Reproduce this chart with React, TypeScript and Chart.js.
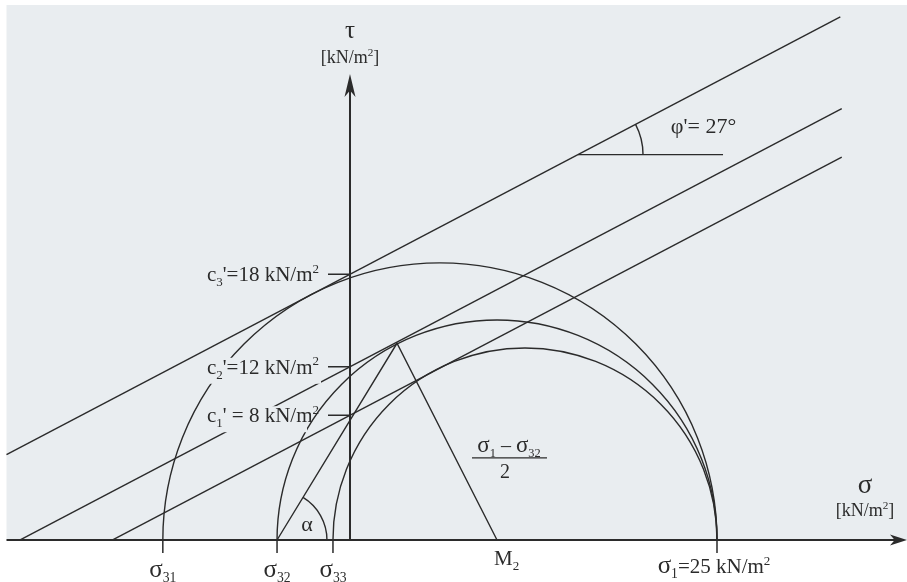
import React, { useEffect, useRef } from 'react';
import { Chart, registerables } from 'chart.js';
Chart.register(...registerables);

// ---- values (stresses in kN/m²) ----
const SIGMA_1 = 25;
const sigma3 = [-12.75, -4.97, -1.16]; // σ31, σ32, σ33
const sigma3Subs = ['31', '32', '33'];
const cDrawn = [8.5, 11.8, 18.1]; // where each envelope meets the τ axis
const cLabels = ['8', '12', '18'];
const cSubs = ['1', '2', '3'];
const envelopeStart = [-16.2, -22.5, -23.4];
const envelopeEnd = [33.5, 33.5, 33.4];
const phiDeg = 27.7;
const phiLabel = '27';
const pole = { x: 3.2, y: 13.4 };
const phiMarkX = [15.53, 25.41];
const phiArcR = 4.43;
const alphaArcR = 3.4;
const sigmaAxis = [-23.4, 37.94];
const tauAxisTop = 31.74;
const xRange = [-23.842, 37.943];
const yRange = [-2.861, 36.785];

const TAN = Math.tan((phiDeg * Math.PI) / 180);
const tauOn = (c: number, s: number) => c + s * TAN;
const M2 = (SIGMA_1 + sigma3[1]) / 2;

const INK = '#2b2b2b';
const PAPER = '#e9edf0';
const FAM = '"Liberation Serif", "DejaVu Serif", serif';

type Seg = { t: string; s: number; dy?: number };
const N = (t: string, s: number): Seg => ({ t, s });
const SUB = (t: string, s: number): Seg => ({ t, s: s * 0.62, dy: s * 0.24 });
const SUP = (t: string, s: number): Seg => ({ t, s: s * 0.62, dy: -s * 0.4 });

function measure(ctx: CanvasRenderingContext2D, segs: Seg[]) {
  let w = 0;
  for (const g of segs) {
    ctx.font = `${g.s}px ${FAM}`;
    w += ctx.measureText(g.t).width;
  }
  return w;
}

function drawRich(
  ctx: CanvasRenderingContext2D,
  segs: Seg[],
  x: number,
  y: number,
  align: 'left' | 'center' | 'right',
  box?: { top: number; bottom: number; trimRight?: number }
) {
  const w = measure(ctx, segs);
  let cx = align === 'left' ? x : align === 'center' ? x - w / 2 : x - w;
  if (box) {
    ctx.fillStyle = PAPER;
    ctx.fillRect(cx - 2, y - box.top, w + 4 - (box.trimRight || 0), box.top + box.bottom);
  }
  ctx.fillStyle = INK;
  ctx.textAlign = 'left';
  ctx.textBaseline = 'alphabetic';
  for (const g of segs) {
    ctx.font = `${g.s}px ${FAM}`;
    ctx.fillText(g.t, cx, y + (g.dy || 0));
    cx += ctx.measureText(g.t).width;
  }
}

function arrow(ctx: CanvasRenderingContext2D, tx: number, ty: number, dx: number, dy: number, len: number, hw: number) {
  const px = -dy, py = dx;
  ctx.beginPath();
  ctx.moveTo(tx, ty);
  ctx.lineTo(tx - dx * len + px * hw, ty - dy * len + py * hw);
  ctx.lineTo(tx - dx * len * 0.72, ty - dy * len * 0.72);
  ctx.lineTo(tx - dx * len - px * hw, ty - dy * len - py * hw);
  ctx.closePath();
  ctx.fillStyle = INK;
  ctx.fill();
}

const mohrPlugin = {
  id: 'mohr',
  beforeDraw(chart: any) {
    const ctx: CanvasRenderingContext2D = chart.ctx;
    const X = (v: number) => chart.scales.x.getPixelForValue(v);
    const Y = (v: number) => chart.scales.y.getPixelForValue(v);
    ctx.save();
    ctx.fillStyle = '#ffffff';
    ctx.fillRect(0, 0, chart.width, chart.height);
    ctx.fillStyle = PAPER;
    const left = X(sigmaAxis[0]);
    ctx.fillRect(left, 5, chart.width - left, Y(0) - 5);
    ctx.restore();
  },
  afterDatasetsDraw(chart: any) {
    const ctx: CanvasRenderingContext2D = chart.ctx;
    const X = (v: number) => chart.scales.x.getPixelForValue(v);
    const Y = (v: number) => chart.scales.y.getPixelForValue(v);
    const y0 = Y(0);
    const x0 = X(0);
    ctx.save();
    ctx.strokeStyle = INK;
    ctx.lineWidth = 1.4;

    // Mohr circles
    sigma3.forEach((s3) => {
      const cx = X((s3 + SIGMA_1) / 2);
      const r = X(SIGMA_1) - cx;
      ctx.beginPath();
      ctx.arc(cx, y0, r, Math.PI, 2 * Math.PI);
      ctx.stroke();
    });

    // angle α at σ32
    {
      const cx = X(sigma3[1]);
      const r = X(sigma3[1] + alphaArcR) - cx;
      const th = Math.atan2(y0 - Y(pole.y), X(pole.x) - cx);
      ctx.beginPath();
      ctx.arc(cx, y0, r, -th, 0);
      ctx.stroke();
    }

    // angle φ' on upper envelope
    {
      const c = cDrawn[2];
      const cx = X(phiMarkX[0]);
      const cy = Y(tauOn(c, phiMarkX[0]));
      const r = X(phiMarkX[0] + phiArcR) - cx;
      const th = Math.atan2(cy - Y(tauOn(c, phiMarkX[1])), X(phiMarkX[1]) - cx);
      ctx.beginPath();
      ctx.arc(cx, cy, r, -th, 0);
      ctx.stroke();
    }

    // axes
    ctx.lineWidth = 2;
    ctx.beginPath();
    ctx.moveTo(X(sigmaAxis[0]), y0);
    ctx.lineTo(X(sigmaAxis[1]) - 10, y0);
    ctx.moveTo(x0, y0);
    ctx.lineTo(x0, Y(tauAxisTop) + 12);
    ctx.stroke();
    arrow(ctx, X(sigmaAxis[1]), y0, 1, 0, 17, 5.5);
    arrow(ctx, x0, Y(tauAxisTop), 0, -1, 23, 5.5);

    // ticks
    ctx.lineWidth = 1.5;
    ctx.beginPath();
    [...sigma3, SIGMA_1].forEach((s) => {
      ctx.moveTo(X(s), y0);
      ctx.lineTo(X(s), y0 + 13);
    });
    cDrawn.forEach((c) => {
      ctx.moveTo(x0 - 22, Y(c));
      ctx.lineTo(x0, Y(c));
    });
    ctx.stroke();

    // cohesion labels
    const cs = 21;
    cDrawn.forEach((c, i) => {
      const eq = cLabels[i].length === 1 ? "' = " : "'=";
      const segs = [N('c', cs), SUB(cSubs[i], cs), N(eq + cLabels[i] + ' kN/m', cs), SUP('2', cs)];
      const box = i === 2 ? undefined : { top: 16, bottom: 10, trimRight: i === 0 ? 14 : 0 };
      drawRich(ctx, segs, x0 - 31, Y(c) + 7, 'right', box);
    });

    // σ3 labels
    sigma3.forEach((s, i) => {
      drawRich(ctx, [N('σ', 25), SUB(sigma3Subs[i], 22)], X(s), y0 + 37, 'center');
    });
    drawRich(
      ctx,
      [N('σ', 25), SUB('1', 22), N('=25 kN/m', 21), SUP('2', 21)],
      X(SIGMA_1) - 3,
      y0 + 33,
      'center'
    );
    drawRich(ctx, [N('M', 21), SUB('2', 21)], X(M2) - 3, y0 + 25, 'left');

    // fraction (σ1 − σ32)/2
    {
      const fx = X(10.83);
      drawRich(ctx, [N('σ', 23), SUB('1', 20), N(' – ', 20), N('σ', 23), SUB('32', 20)], fx, Y(6.34) + 5, 'center');
      ctx.lineWidth = 1.2;
      ctx.beginPath();
      ctx.moveTo(fx - 37, Y(5.59));
      ctx.lineTo(fx + 38, Y(5.59));
      ctx.stroke();
      drawRich(ctx, [N('2', 20)], fx - 4, Y(4.7) + 7, 'center');
    }

    // α, φ'
    drawRich(ctx, [N('α', 22)], X(-2.93), Y(1.02) + 6, 'center');
    drawRich(ctx, [N("φ'= " + phiLabel + '°', 22)], X(24.08), Y(28.2) + 7, 'center');

    // axis titles
    drawRich(ctx, [N('τ', 25)], x0, 38, 'center');
    drawRich(ctx, [N('[kN/m', 18), SUP('2', 18), N(']', 18)], x0, 63, 'center');
    drawRich(ctx, [N('σ', 27)], X(35.08), Y(3.68) + 7, 'center');
    drawRich(ctx, [N('[kN/m', 18), SUP('2', 18), N(']', 18)], X(35.08), Y(2.04) + 6, 'center');

    ctx.restore();
  },
};

export default function App() {
  const ref = useRef<HTMLCanvasElement>(null);
  useEffect(() => {
    if (!ref.current) return;
    const line = (pts: { x: number; y: number }[], w = 1.4) => ({
      data: pts,
      showLine: true,
      borderColor: INK,
      borderWidth: w,
      pointRadius: 0,
      fill: false,
    });
    const datasets = [
      ...cDrawn.map((c, i) =>
        line([
          { x: envelopeStart[i], y: tauOn(c, envelopeStart[i]) },
          { x: envelopeEnd[i], y: tauOn(c, envelopeEnd[i]) },
        ])
      ),
      line([
        { x: sigma3[1], y: 0 },
        { x: pole.x, y: pole.y },
        { x: M2, y: 0 },
      ]),
      line([
        { x: phiMarkX[0], y: tauOn(cDrawn[2], phiMarkX[0]) },
        { x: phiMarkX[1], y: tauOn(cDrawn[2], phiMarkX[0]) },
      ]),
    ];
    const chart = new Chart(ref.current, {
      type: 'scatter',
      data: { datasets },
      options: {
        responsive: false,
        maintainAspectRatio: false,
        animation: false,
        events: [],
        layout: { padding: 0 },
        plugins: { legend: { display: false }, tooltip: { enabled: false } },
        scales: {
          x: { type: 'linear', min: xRange[0], max: xRange[1], display: false },
          y: { type: 'linear', min: yRange[0], max: yRange[1], display: false },
        },
      },
      plugins: [mohrPlugin],
    } as any);
    return () => chart.destroy();
  }, []);
  return (
    <div style={{ position: 'fixed', left: 0, top: 0, width: 907, height: 582, background: '#fff' }}>
      <canvas ref={ref} width={907} height={582} style={{ display: 'block', width: 907, height: 582 }} />
    </div>
  );
}
